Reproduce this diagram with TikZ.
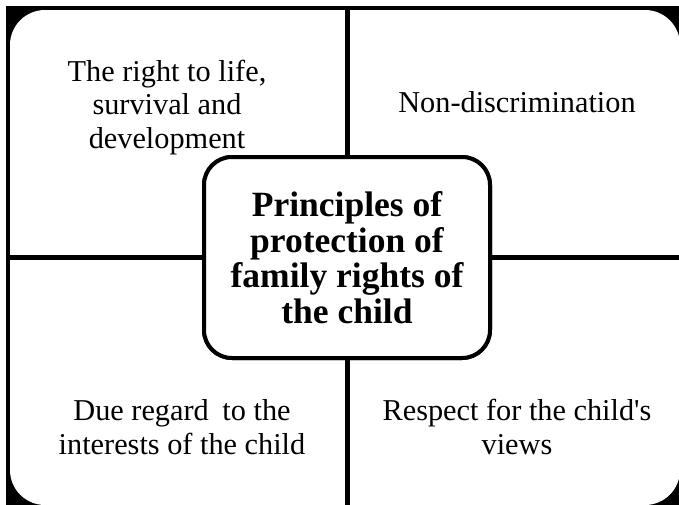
\documentclass[tikz,border=0pt]{standalone}
\usepackage{fontspec}
\setmainfont{Liberation Serif}
\begin{document}
\begin{tikzpicture}[x=1pt,y=-1pt,
  rule/.style={line width=5pt,black},
  hubbox/.style={draw=black,line width=4pt,fill=white,rounded corners=28pt,
    minimum width=286pt,minimum height=201pt,align=center,inner sep=0pt,
    font=\fontsize{35.5}{35.5}\selectfont\bfseries},
  label/.style={align=center,inner sep=0pt,font=\fontsize{30.3}{33.5}\selectfont}]
  \useasboundingbox (0,0) rectangle (679,504);
  \clip (0,0) rectangle (679,504);
  % outer frame: black border with rounded white panel inside
  \fill[black] (6,6) rectangle (684,509);
  \fill[white,rounded corners=35pt] (10,10) rectangle (680,505);
  \coordinate (ftop) at (347,10);
  \coordinate (fbot) at (347,505);
  \coordinate (fleft) at (10,257.5);
  \coordinate (fright) at (680,257.5);
  % central principle
  \node[hubbox] (hub) at (347,257.5)
    {Principles of\\protection of\\family rights of\\the child};
  % dividers between the four quadrants
  \draw[rule] (hub.north) -- (ftop);
  \draw[rule] (hub.south) -- (fbot);
  \draw[rule] (hub.west) -- (fleft);
  \draw[rule] (hub.east) -- (fright);
  \node[hubbox] at (hub) {Principles of\\protection of\\family rights of\\the child};
  % quadrant texts
  \node[label] (life) at (167,107.5) {The right to life,\\survival and\\development};
  \node[label] (nondisc) at (517,102) {Non-discrimination};
  \node[label] (interest) at (182,427) {Due regard\hspace{0.2em} to the\\interests of the child};
  \node[label] (views) at (517,427) {Respect for the child\textquotesingle s\\views};
\end{tikzpicture}
\end{document}
